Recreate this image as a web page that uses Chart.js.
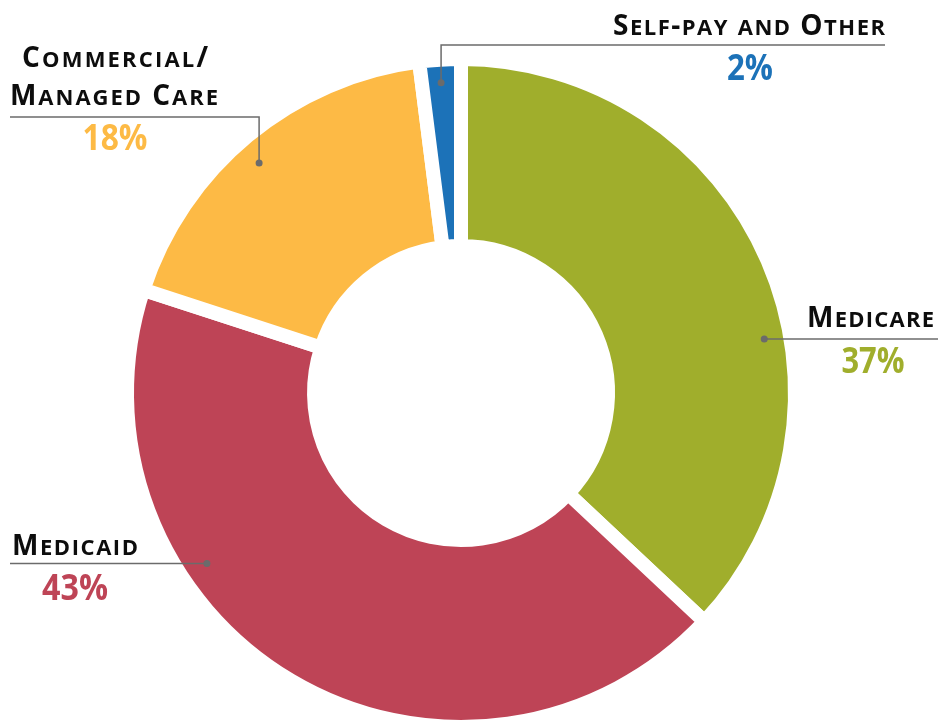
<!DOCTYPE html>
<html>
<head>
<meta charset="utf-8">
<script src="https://cdn.jsdelivr.net/npm/chart.js@4.4.0/dist/chart.umd.min.js"></script>
<style>
    html, body { margin: 0; padding: 0; background: #fff; overflow: hidden; }
    #wrap { position: relative; width: 943px; height: 800px; }
</style>
</head>
<body>
<div id="wrap"><canvas id="payerChart"></canvas></div>
<script>
// data
const categories = ['Medicare', 'Medicaid', 'Commercial/\nManaged Care', 'Self-pay and Other'];
const shares = [37, 43, 18, 2];
const sliceColors = ['#a0ae2c', '#be4456', '#fdba45', '#1c72b8'];

// where each callout sits (t = position along the slice, inset = px in from the outer edge)
const calloutLayout = [
    { t: 0.60, inset: 26, leader: 'h', endX: 938,
      lines: [{ left: 807, right: 934, baseline: 327 }],
      pct: { cx: 873, baseline: 373, width: 63 } },
    { t: 0.665, inset: 28, leader: 'h', endX: 10,
      lines: [{ left: 12, right: 138, baseline: 555 }],
      pct: { cx: 75, baseline: 600, width: 66 } },
    { t: 0.474, inset: 28, leader: 'v', turnY: 117, endX: 10,
      lines: [{ left: 22, right: 208, baseline: 67 }, { left: 10, right: 218, baseline: 105 }],
      pct: { cx: 115, baseline: 150, width: 65 } },
    { t: 0.49, inset: 23, leader: 'v', turnY: 45, endX: 885,
      lines: [{ left: 613, right: 885, baseline: 35 }],
      pct: { cx: 750, baseline: 80, width: 46 } }
];

const FONT = '"Open Sans", "Noto Sans", sans-serif';

function drawSmallCaps(ctx, text, left, right, baseline) {
    const parts = [];
    for (const ch of text) {
        const small = ch !== ch.toUpperCase();
        parts.push({ ch: ch.toUpperCase(), font: `bold ${small ? 22 : 28}px ${FONT}` });
    }
    let natural = 0;
    parts.forEach(p => {
        ctx.font = p.font;
        p.w = ctx.measureText(p.ch).width;
        natural += p.w;
    });
    const gap = parts.length > 1 ? (right - left - natural) / (parts.length - 1) : 0;
    let x = left;
    ctx.textAlign = 'left';
    parts.forEach(p => {
        ctx.font = p.font;
        ctx.fillText(p.ch, x, baseline);
        x += p.w + gap;
    });
}

function drawFitted(ctx, text, cx, baseline, width) {
    ctx.font = `bold 36px ${FONT}`;
    const w = ctx.measureText(text).width;
    ctx.save();
    ctx.translate(cx, baseline);
    ctx.scale(width / w, 1);
    ctx.textAlign = 'center';
    ctx.fillText(text, 0, 0);
    ctx.restore();
}

const calloutPlugin = {
    id: 'callouts',
    afterDatasetsDraw(chart) {
        const ctx = chart.ctx;
        const arcs = chart.getDatasetMeta(0).data;
        ctx.save();
        ctx.textBaseline = 'alphabetic';
        arcs.forEach((arc, i) => {
            const L = calloutLayout[i];
            const { x, y, startAngle, endAngle, outerRadius } =
                arc.getProps(['x', 'y', 'startAngle', 'endAngle', 'outerRadius'], true);
            const a = startAngle + (endAngle - startAngle) * L.t;
            const r = outerRadius - L.inset;
            const dx = x + Math.cos(a) * r;
            const dy = y + Math.sin(a) * r;

            // leader line
            ctx.strokeStyle = '#6b6b6b';
            ctx.lineWidth = 1.5;
            ctx.beginPath();
            ctx.moveTo(dx, dy);
            if (L.leader === 'h') {
                ctx.lineTo(L.endX, dy);
            } else {
                ctx.lineTo(dx, L.turnY);
                ctx.lineTo(L.endX, L.turnY);
            }
            ctx.stroke();
            ctx.fillStyle = '#6b6b6b';
            ctx.beginPath();
            ctx.arc(dx, dy, 3.5, 0, Math.PI * 2);
            ctx.fill();

            // title
            ctx.fillStyle = '#0d0d0d';
            categories[i].split('\n').forEach((line, j) => {
                const pos = L.lines[j];
                drawSmallCaps(ctx, line, pos.left, pos.right, pos.baseline);
            });

            // percentage
            ctx.fillStyle = sliceColors[i];
            drawFitted(ctx, shares[i] + '%', L.pct.cx, L.pct.baseline, L.pct.width);
        });
        ctx.restore();
    }
};

new Chart(document.getElementById('payerChart'), {
    type: 'doughnut',
    data: {
        labels: categories,
        datasets: [{
            data: shares,
            backgroundColor: sliceColors,
            borderColor: '#ffffff',
            borderWidth: 14,
            hoverBorderWidth: 14,
            borderJoinStyle: 'miter',
            hoverOffset: 0
        }]
    },
    options: {
        responsive: true,
        maintainAspectRatio: false,
        animation: false,
        events: [],
        cutout: '44%',
        layout: {
            padding: { left: 120, right: 141, top: 52, bottom: 66 }
        },
        plugins: {
            legend: { display: false },
            tooltip: { enabled: false }
        }
    },
    plugins: [calloutPlugin]
});
</script>
</body>
</html>
